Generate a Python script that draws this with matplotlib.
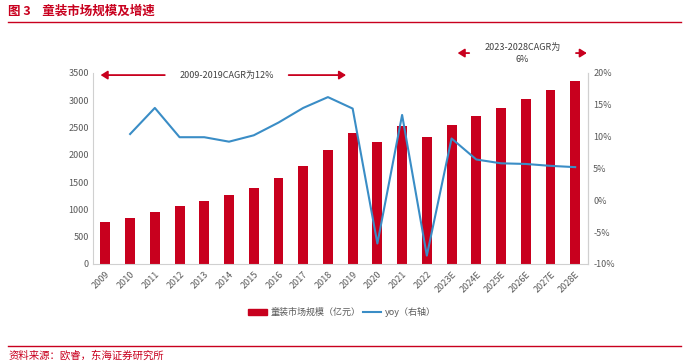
import matplotlib
matplotlib.use("Agg")
import matplotlib.pyplot as plt
from matplotlib.lines import Line2D
from matplotlib.patches import Patch, FancyArrowPatch

plt.rcParams['font.family'] = ['Noto Sans CJK SC', 'DejaVu Sans']

years = ["2009", "2010", "2011", "2012", "2013", "2014", "2015", "2016", "2017", "2018",
         "2019", "2020", "2021", "2022", "2023E", "2024E", "2025E", "2026E", "2027E", "2028E"]
market_size = [760, 840, 960, 1060, 1160, 1270, 1400, 1570, 1800, 2090,
               2400, 2225, 2520, 2320, 2540, 2705, 2855, 3020, 3185, 3350]
yoy = [None, 10.4, 14.5, 9.9, 9.9, 9.2, 10.2, 12.2, 14.5, 16.2,
       14.4, -6.8, 13.4, -8.7, 9.7, 6.4, 5.8, 5.7, 5.4, 5.2]
left_ticks = [0, 500, 1000, 1500, 2000, 2500, 3000, 3500]
right_ticks = [-10, -5, 0, 5, 10, 15, 20]

RED = "#c8001e"
BLUE = "#3a8dc6"
GRAY = "#595959"
SPINE = "#d0d0d0"

fig = plt.figure(figsize=(6.84, 3.61), dpi=100)
ax = fig.add_axes([0.136, 0.269, 0.723, 0.529])
x = list(range(len(years)))
ax.bar(x, market_size, width=0.4, color=RED, zorder=2)
ax.set_xlim(-0.5, len(years) - 0.5)
ax.set_ylim(0, 3500)
ax.set_yticks(left_ticks)
ax.set_yticklabels([str(v) for v in left_ticks])
ax.set_xticks(x)
ax.set_xticklabels(years, rotation=45, ha="right", rotation_mode="anchor")
ax.tick_params(axis="both", labelsize=6.5, colors=GRAY, length=0, pad=3)
ax.tick_params(axis="x", pad=4)
ax.spines["top"].set_visible(False)
for s in ["left", "bottom", "right"]:
    ax.spines[s].set_color(SPINE)
    ax.spines[s].set_linewidth(0.8)

ax2 = ax.twinx()
xs = [i for i, v in enumerate(yoy) if v is not None]
ys = [v for v in yoy if v is not None]
ax2.plot(xs, ys, color=BLUE, lw=1.5, zorder=3)
ax2.set_ylim(-10, 20)
ax2.set_yticks(right_ticks)
ax2.set_yticklabels([f"{v}%" for v in right_ticks])
ax2.tick_params(axis="y", labelsize=6.5, colors=GRAY, length=0, pad=4)
for s in ["top", "left", "bottom"]:
    ax2.spines[s].set_visible(False)
ax2.spines["right"].set_color(SPINE)
ax2.spines["right"].set_linewidth(0.8)

# Title and frame lines
fig.text(0.012, 0.968, "图 3    童装市场规模及增速", color=RED, fontsize=9,
         fontweight="bold", va="center", ha="left")
fig.add_artist(Line2D([0.012, 0.995], [0.94, 0.94], color=RED, lw=1.0))
fig.add_artist(Line2D([0.012, 0.995], [0.042, 0.042], color=RED, lw=1.0))
fig.text(0.012, 0.015, "资料来源：欧睿，东海证券研究所", color=RED, fontsize=7.5,
         va="center", ha="left")

# CAGR annotations
def arrow(x0, x1, y):
    fig.add_artist(FancyArrowPatch(
        (x0, y), (x1, y), transform=fig.transFigure,
        arrowstyle="-|>,head_length=4,head_width=2.5",
        color=RED, lw=1.3, mutation_scale=1))

arrow(0.245, 0.143, 0.792)
arrow(0.418, 0.51, 0.792)
fig.text(0.332, 0.792, "2009-2019CAGR为12%", fontsize=6.5, color="#404040",
         ha="center", va="center")
arrow(0.69, 0.665, 0.853)
arrow(0.838, 0.862, 0.853)
fig.text(0.764, 0.868, "2023-2028CAGR为", fontsize=6.5, color="#404040",
         ha="center", va="center")
fig.text(0.764, 0.835, "6%", fontsize=6.5, color="#404040",
         ha="center", va="center")

handles = [Patch(facecolor=RED, edgecolor=RED),
           Line2D([0], [0], color=BLUE, lw=1.5)]
fig.legend(handles, ["童装市场规模（亿元）", "yoy（右轴）"], loc="center",
           bbox_to_anchor=(0.5, 0.135), ncol=2, frameon=False, fontsize=6.5,
           labelcolor=GRAY, handlelength=2.0, handleheight=0.6, columnspacing=0.3,
           handletextpad=0.4)

fig.savefig("out.png", dpi=100)
